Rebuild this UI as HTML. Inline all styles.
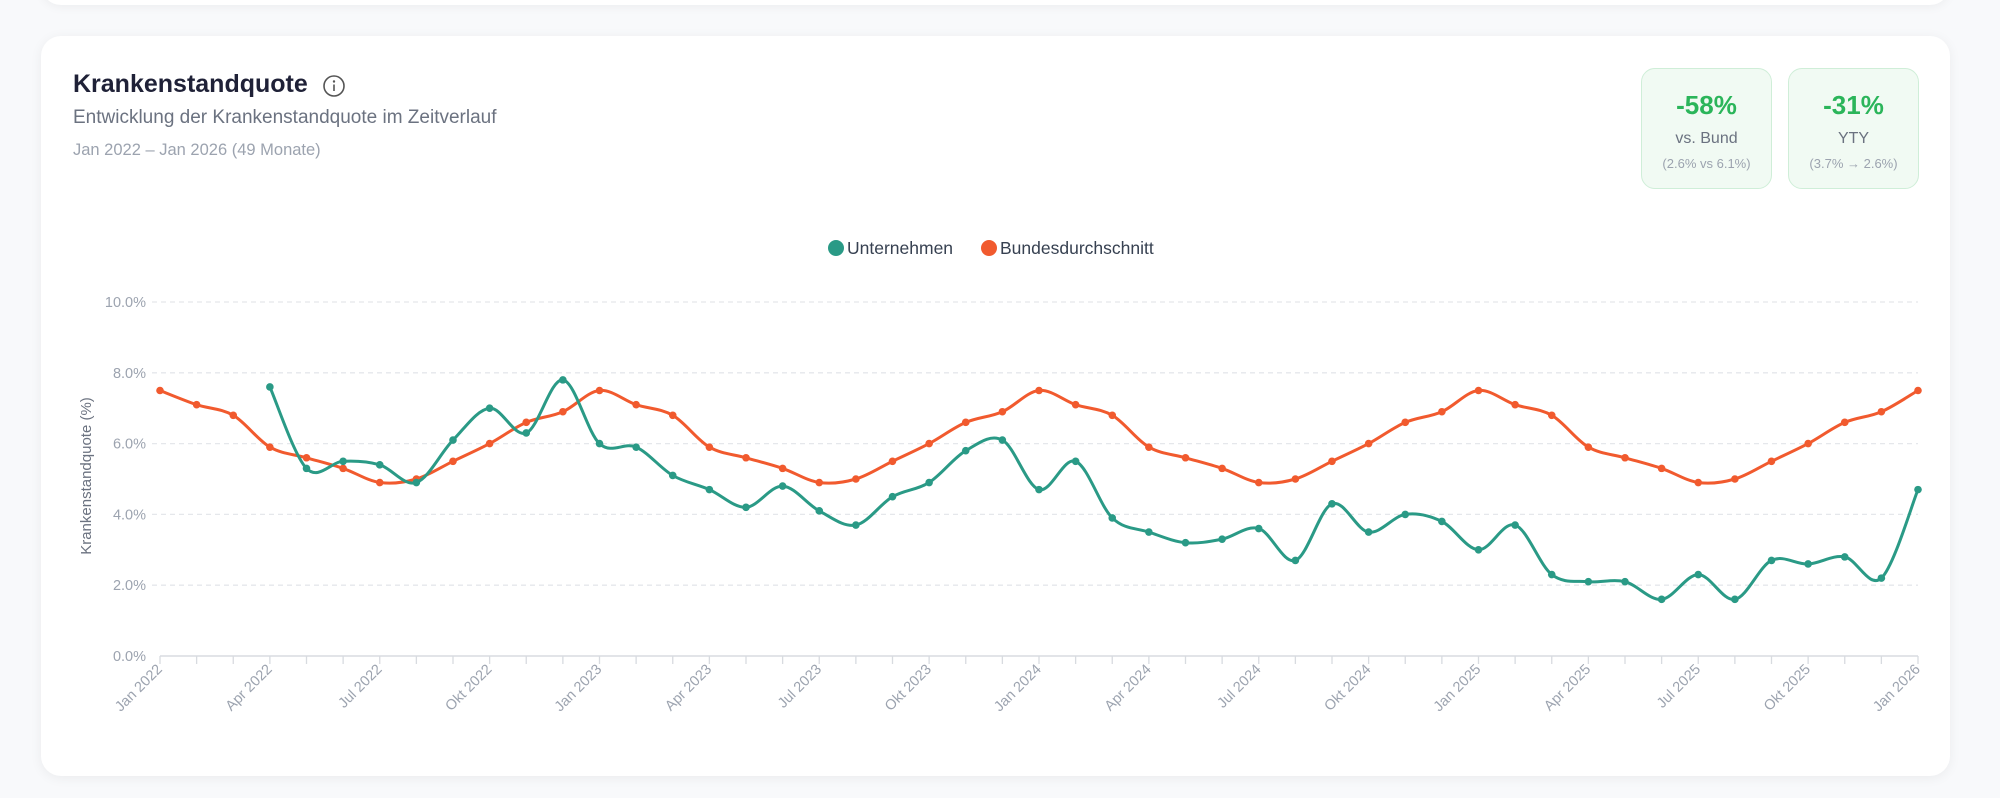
<!DOCTYPE html>
<html><head><meta charset="utf-8">
<style>
html,body{margin:0;padding:0;background:#f8f9fb;width:2000px;height:798px;overflow:hidden;font-family:"Liberation Sans",sans-serif;}
.topcard{position:absolute;left:41px;top:-40px;width:1909px;height:45px;background:#fff;border-radius:20px;box-shadow:0 2px 10px rgba(0,0,0,0.05);}
.card{position:absolute;left:41px;top:36px;width:1909px;height:740px;background:#fff;border-radius:20px;box-shadow:0 2px 12px rgba(0,0,0,0.06);}
.t{position:absolute;white-space:nowrap;}
.box{position:absolute;top:68px;width:129px;height:119px;background:#f1faf3;border:1.5px solid #cfeed8;border-radius:14px;text-align:center;}
.box .v{position:absolute;left:0;right:0;top:21px;font-size:26px;font-weight:bold;color:#2bb55a;}
.box .l{position:absolute;left:0;right:0;top:61px;font-size:16px;color:#6b7280;}
.box .s{position:absolute;left:0;right:0;top:87px;font-size:13px;color:#9ca3af;}
</style></head><body>
<div class="topcard"></div>
<div class="card"></div>
<div class="t" style="left:73px;top:70px;font-size:25px;font-weight:bold;color:#1f2137;">Krankenstandquote</div>
<svg style="position:absolute;left:322px;top:74px" width="24" height="24"><circle cx="12" cy="12" r="10" fill="none" stroke="#555" stroke-width="1.6"/><circle cx="12" cy="7.5" r="1.2" fill="#555"/><line x1="12" y1="10.5" x2="12" y2="17" stroke="#555" stroke-width="1.6"/></svg>
<div class="t" style="left:73px;top:107px;font-size:19px;color:#6b7280;">Entwicklung der Krankenstandquote im Zeitverlauf</div>
<div class="t" style="left:73px;top:141px;font-size:16.5px;color:#9ca3af;">Jan 2022 – Jan 2026 (49 Monate)</div>
<div class="box" style="left:1641px"><div class="v">-58%</div><div class="l">vs. Bund</div><div class="s">(2.6% vs 6.1%)</div></div>
<div class="box" style="left:1788px"><div class="v">-31%</div><div class="l">YTY</div><div class="s">(3.7% → 2.6%)</div></div>
<svg id="c" style="position:absolute;left:0;top:0" width="2000" height="798" font-family="Liberation Sans, sans-serif"></svg>
<script>
var X0=160,DX=(1918-160)/48,Y0=656,DY=35.4;
function px(i){return X0+i*DX} function py(v){return Y0-v*DY}
var b1=[7.5,7.1,6.8,5.9,5.6,5.3,4.9,5.0,5.5,6.0,6.6,6.9];
var bund=[];for(var i=0;i<49;i++)bund.push(b1[i%12]);
var g=[7.6,5.3,5.5,5.4,4.9,6.1,7.0,6.3,7.8,6.0,5.9,5.1,4.7,4.2,4.8,4.1,3.7,4.5,4.9,5.8,6.1,4.7,5.5,3.9,3.5,3.2,3.3,3.6,2.7,4.3,3.5,4.0,3.8,3.0,3.7,2.3,2.1,2.1,1.6,2.3,1.6,2.7,2.6,2.8,2.2,4.7];
var s='';
var months=['Jan','Feb','Mär','Apr','Mai','Jun','Jul','Aug','Sep','Okt','Nov','Dez'];
for(var k=0;k<=5;k++){var y=py(k*2);
 if(k>0)s+='<line x1="152" x2="1918" y1="'+y+'" y2="'+y+'" stroke="#e5e7eb" stroke-width="1.3" stroke-dasharray="5 4"/>';
 s+='<text x="146" y="'+(y+5)+'" text-anchor="end" font-size="14.5" fill="#9ca3af">'+(k*2).toFixed(1)+'%</text>';}
s+='<line x1="160" x2="1918" y1="'+Y0+'" y2="'+Y0+'" stroke="#d8dbe0" stroke-width="1.5"/>';
for(var i=0;i<49;i++){var x=px(i);s+='<line x1="'+x+'" x2="'+x+'" y1="'+Y0+'" y2="'+(Y0+8)+'" stroke="#d8dbe0" stroke-width="1.3"/>';
 if(i%3==0){var lab=months[i%12]+' '+(2022+Math.floor(i/12));
 s+='<text transform="translate('+(x+3)+','+(Y0+14)+') rotate(-45)" text-anchor="end" font-size="14.5" fill="#9ca3af">'+lab+'</text>';}}
s+='<text transform="translate(91,476) rotate(-90)" text-anchor="middle" font-size="15" fill="#6b7280">Krankenstandquote (%)</text>';
function path(pts){var d='M'+pts[0][0]+','+pts[0][1];
 for(var i=0;i<pts.length-1;i++){var p0=pts[i-1]||pts[i],p1=pts[i],p2=pts[i+1],p3=pts[i+2]||p2;
 var c1x=p1[0]+(p2[0]-p0[0])/6,c1y=p1[1]+(p2[1]-p0[1])/6,c2x=p2[0]-(p3[0]-p1[0])/6,c2y=p2[1]-(p3[1]-p1[1])/6;
 d+=' C'+c1x.toFixed(1)+','+c1y.toFixed(1)+' '+c2x.toFixed(1)+','+c2y.toFixed(1)+' '+p2[0].toFixed(1)+','+p2[1].toFixed(1);}return d;}
function series(vals,off,col){var pts=vals.map(function(v,i){return [px(i+off),py(v)]});
 var r='<path d="'+path(pts)+'" fill="none" stroke="'+col+'" stroke-width="3"/>';
 pts.forEach(function(p){r+='<circle cx="'+p[0]+'" cy="'+p[1]+'" r="3.8" fill="'+col+'"/>'});return r;}
s+=series(bund,0,'#f15a2e');
s+=series(g,3,'#2a9a86');
s+='<circle cx="836" cy="248" r="8" fill="#2a9a86"/><text x="847" y="254" font-size="17.5" fill="#374151">Unternehmen</text>';
s+='<circle cx="989" cy="248" r="8" fill="#f15a2e"/><text x="1000" y="254" font-size="17.5" fill="#374151">Bundesdurchschnitt</text>';
document.getElementById('c').innerHTML=s;
</script>
</body></html>
